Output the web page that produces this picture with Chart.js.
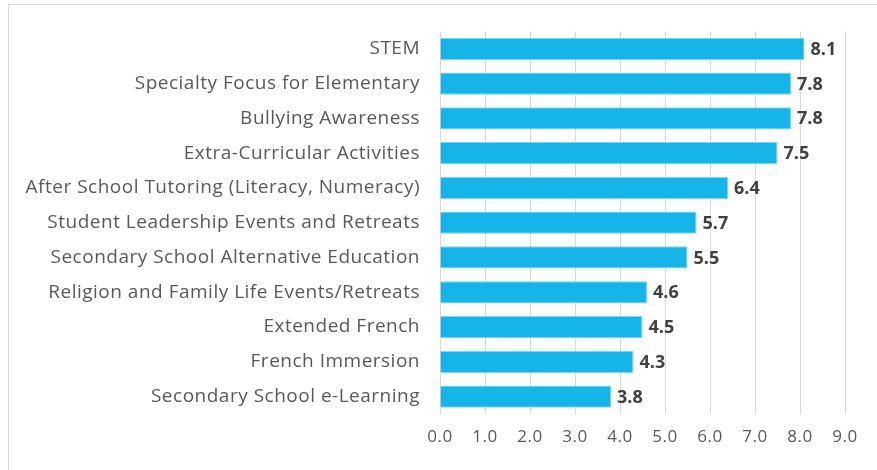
<!DOCTYPE html>
<html>
<head>
<meta charset="utf-8">
<script src="https://cdn.jsdelivr.net/npm/chart.js@4.4.1/dist/chart.umd.min.js"></script>
<style>
  html, body { margin: 0; padding: 0; background: #fff; }
  #wrap { position: relative; width: 877px; height: 470px; }
  #frame { position: absolute; left: 8px; top: 4px; width: 900px; height: 500px; border: 1px solid #d9d9d9; box-sizing: border-box; }
  canvas { position: absolute; left: 0; top: 0; }
</style>
</head>
<body>
<div id="wrap">
  <div id="frame"></div>
  <canvas id="chart" width="877" height="470"></canvas>
</div>
<script>
const categories = [
  'STEM',
  'Specialty Focus for Elementary',
  'Bullying Awareness',
  'Extra-Curricular Activities',
  'After School Tutoring (Literacy, Numeracy)',
  'Student Leadership Events and Retreats',
  'Secondary School Alternative Education',
  'Religion and Family Life Events/Retreats',
  'Extended French',
  'French Immersion',
  'Secondary School e-Learning'
];
const scores = [8.1, 7.8, 7.8, 7.5, 6.4, 5.7, 5.5, 4.6, 4.5, 4.3, 3.8];
const xTicks = [0, 1, 2, 3, 4, 5, 6, 7, 8, 9];

const fontFamily = '"Open Sans", "Liberation Sans", sans-serif';

// slightly looser text, like the original
const spacing = {
  id: 'spacing',
  beforeDraw(chart) { chart.ctx.letterSpacing = '0.5px'; }
};

// value labels at the end of each bar
const barLabels = {
  id: 'barLabels',
  afterDatasetsDraw(chart) {
    const ctx = chart.ctx;
    const meta = chart.getDatasetMeta(0);
    ctx.save();
    ctx.letterSpacing = '0px';
    ctx.font = 'bold 18px ' + fontFamily;
    ctx.fillStyle = '#404040';
    ctx.textAlign = 'left';
    ctx.textBaseline = 'middle';
    meta.data.forEach((bar, i) => {
      ctx.fillText(scores[i].toFixed(1), bar.x + 6, bar.y + 1);
    });
    ctx.restore();
  }
};

new Chart(document.getElementById('chart'), {
  type: 'bar',
  data: {
    labels: categories,
    datasets: [{
      data: scores,
      backgroundColor: '#15B4E9',
      borderColor: '#7fd6f3',
      borderWidth: 1,
      barPercentage: 0.64,
      categoryPercentage: 1.0
    }]
  },
  options: {
    indexAxis: 'y',
    responsive: false,
    animation: false,
    layout: { padding: { left: 0, right: 32, top: 29, bottom: 0 } },
    plugins: { legend: { display: false }, tooltip: { enabled: false } },
    scales: {
      x: {
        min: 0,
        max: 9,
        afterBuildTicks(scale) { scale.ticks = xTicks.map(v => ({ value: v })); },
        afterFit(scale) { scale.height = 56; },
        grid: { color: '#d9d9d9', drawTicks: false },
        border: { display: false },
        ticks: {
          padding: 13,
          color: '#595959',
          font: { family: fontFamily, size: 17 },
          callback: v => Number(v).toFixed(1)
        }
      },
      y: {
        afterFit(scale) { scale.width = 440; },
        grid: { display: false, drawTicks: false },
        border: { display: false },
        ticks: {
          padding: 20,
          color: '#595959',
          font: { family: fontFamily, size: 19 }
        }
      }
    }
  },
  plugins: [spacing, barLabels]
});
</script>
</body>
</html>
